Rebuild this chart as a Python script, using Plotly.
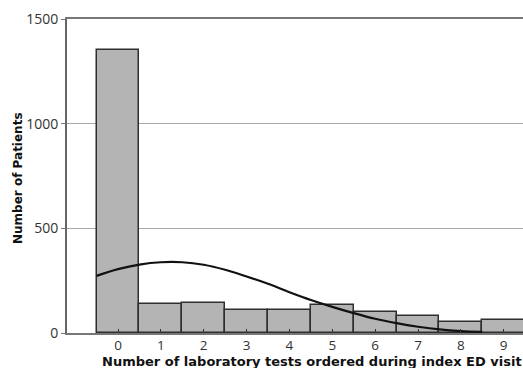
import plotly.graph_objects as go

categories = [0, 1, 2, 3, 4, 5, 6, 7, 8, 9]
tick_labels = ["0", "1", "2", "3", "4", "5", "6", "7", "8", "9"]
patients = [1352, 137, 143, 110, 110, 135, 98, 81, 51, 62]

curve_x = [-0.5, 0.0, 0.5, 1.0, 1.5, 2.0, 2.5, 3.0, 3.5, 4.0, 4.5, 5.0, 5.5, 6.0, 6.5, 7.0, 7.5, 8.0, 8.5]
curve_y = [273, 305, 327, 338, 338, 326, 302, 270, 235, 195, 158, 125, 95, 68, 47, 30, 17, 9, 5]

y_ticks = [0, 500, 1000, 1500]

x_title = "Number of laboratory tests ordered during index ED visit"
y_title = "Number of Patients"

fig = go.Figure()
fig.add_trace(go.Bar(
    x=categories, y=patients, width=1.0,
    marker=dict(color="#b4b4b4", line=dict(color="#2e2e2e", width=1.5)),
    showlegend=False,
))
fig.add_trace(go.Scatter(
    x=curve_x, y=curve_y, mode="lines",
    line=dict(color="#111111", width=2.2, shape="spline"),
    showlegend=False,
))

font_family = "Open Sans, Liberation Sans, sans-serif"
title_font = "DejaVu Sans, Open Sans, sans-serif"
fig.update_layout(
    width=523, height=368,
    margin=dict(l=67, r=0, t=19, b=35, autoexpand=False),
    plot_bgcolor="white", paper_bgcolor="white",
    bargap=0,
    font=dict(family=font_family, size=13, color="#333333"),
    xaxis=dict(
        range=[-1.19, 9.45],
        tickmode="array", tickvals=categories, ticktext=tick_labels,
        ticks="inside", ticklen=4, tickcolor="#333333", tickwidth=1.2,
        showline=True, linecolor="#777777", linewidth=2, mirror=True,
        showgrid=False, zeroline=False, automargin=False,
        tickfont=dict(size=13.5, color="#333333"), ticklabelstandoff=-1,
    ),
    yaxis=dict(
        range=[0, 1500],
        tickmode="array", tickvals=y_ticks,
        ticks="outside", ticklen=4, tickcolor="#777777",
        showline=True, linecolor="#666666", linewidth=2,
        showgrid=True, gridcolor="#a8a8a8", gridwidth=1,
        zeroline=False, automargin=False,
        tickfont=dict(size=14, color="#333333"),
    ),
    annotations=[
        dict(text="<b>" + x_title + "</b>", xref="paper", yref="paper",
             x=0.5, y=0, xshift=17, yshift=-28, xanchor="center", yanchor="middle",
             showarrow=False, font=dict(family=title_font, size=13, color="#111111")),
        dict(text="<b>" + y_title + "</b>", xref="paper", yref="paper",
             x=0, y=0.5, xshift=-49, yshift=-2, xanchor="center", yanchor="middle",
             textangle=-90, showarrow=False,
             font=dict(family=title_font, size=12, color="#111111")),
    ],
)

fig.write_html(
    "out.html",
    config={"displayModeBar": False},
    post_script="document.body.style.margin='0';document.body.style.overflow='hidden';",
)
